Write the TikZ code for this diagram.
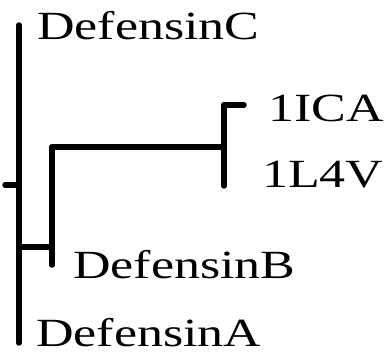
\documentclass[tikz,border=0pt]{standalone}
\usepackage{fontspec}
\newfontfamily\lblfont[FakeStretch=1.3]{Liberation Serif}
\tikzset{
  branch/.style={line width=5.5pt, line cap=round, line join=miter},
  leaf/.style={anchor=base west, inner sep=0pt, font=\lblfont\fontsize{40}{40}\selectfont}
}
\begin{document}
\begin{tikzpicture}[x=1pt,y=-1pt]
\useasboundingbox (0,0) rectangle (385,355);
% internal structure coordinates
\coordinate (root) at (5,185);
\coordinate (mainmid) at (19,185);
\coordinate (maintop) at (19,25);
\coordinate (mainbot) at (19,343);
\coordinate (bjoin) at (19,247);
\coordinate (bnode) at (52,247);
\coordinate (btop) at (52,147);
\coordinate (bbot) at (52,265);
\coordinate (cjoin) at (224,147);
\coordinate (ctop) at (224,105);
\coordinate (cbot) at (224,186);
\coordinate (icaend) at (244,105);
% branches
\draw[branch] (root) -- (mainmid);
\draw[branch] (maintop) -- (mainbot);
\draw[branch] (bjoin) -- (bnode);
\draw[branch] (btop) -- (bbot);
\draw[branch] (btop) -- (cjoin);
\draw[branch] (ctop) -- (cbot);
\draw[branch] (ctop) -- (icaend);
% labels
\node[leaf] (defC) at (37,40) {DefensinC};
\node[leaf] (ica) at (268,122) {1ICA};
\node[leaf] (l4v) at (262,188) {1L4V};
\node[leaf] (defB) at (73,278) {DefensinB};
\node[leaf] (defA) at (36,346) {DefensinA};
\end{tikzpicture}
\end{document}
